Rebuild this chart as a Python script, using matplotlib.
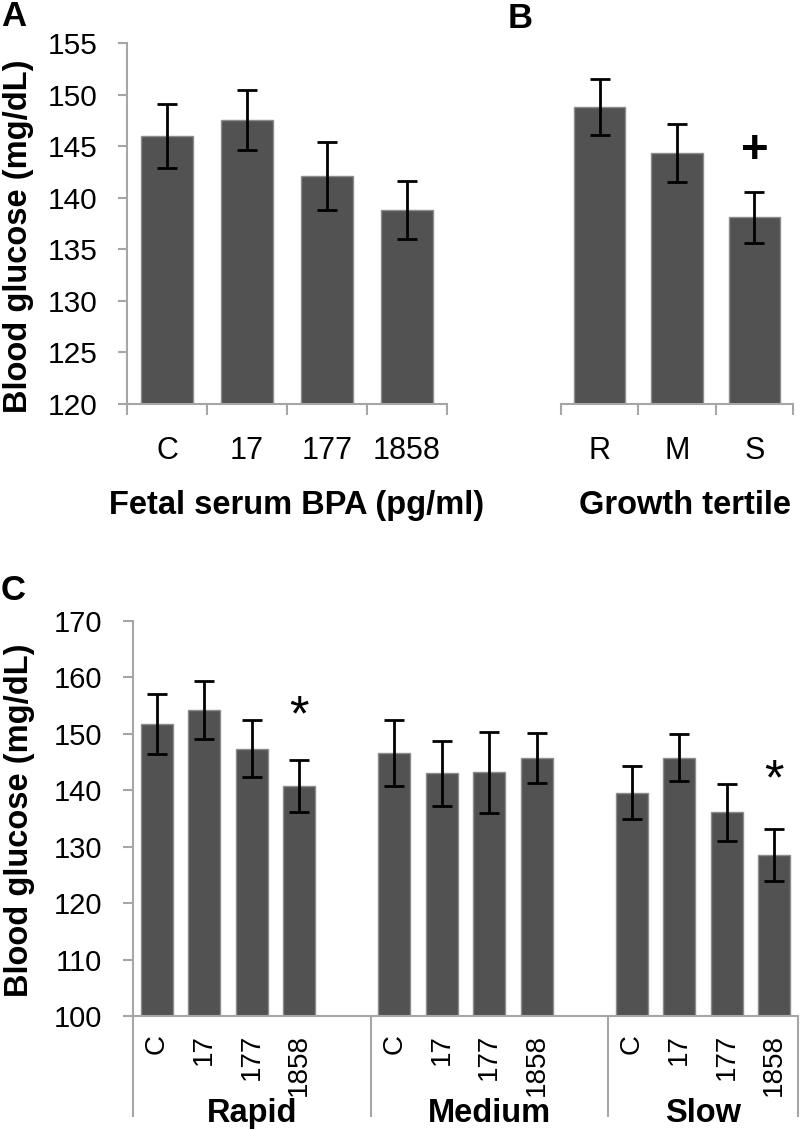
import matplotlib.pyplot as plt

plt.rcParams['font.family'] = ['Liberation Sans', 'DejaVu Sans']

# Panel A - fetal serum BPA
bpa_labels = ['C', '17', '177', '1858']
bpa_means = [146.0, 147.5, 142.1, 138.8]
bpa_err = [3.1, 2.9, 3.3, 2.8]

# Panel B - growth tertile
tertile_labels = ['R', 'M', 'S']
tertile_means = [148.8, 144.3, 138.1]
tertile_err = [2.7, 2.8, 2.5]

# Panel C - BPA dose within each growth tertile
groups = ['Rapid', 'Medium', 'Slow']
rapid_means = [151.7, 154.2, 147.4, 140.7]
rapid_err = [5.3, 5.1, 5.1, 4.6]
medium_means = [146.6, 143.0, 143.2, 145.7]
medium_err = [5.8, 5.75, 7.2, 4.4]
slow_means = [139.6, 145.8, 136.1, 128.5]
slow_err = [4.65, 4.15, 5.0, 4.6]

bar_color = '#525252'
edge_color = '#8c8c8c'
axis_color = '#a6a6a6'
W, H = 800, 1130
fs = 22
fs_bold = 23.5


def add_axes_px(left, top, right, bottom):
    return fig.add_axes([left / W, 1 - bottom / H, (right - left) / W, (bottom - top) / H])


def draw_bars(ax, x, means, err, width):
    ax.bar(x, means, width=width, color=bar_color, edgecolor=edge_color, linewidth=1)
    ax.errorbar(x, means, yerr=err, fmt='none', ecolor='black', elinewidth=2,
                capsize=7.5, capthick=2)


def style(ax, show_y=True):
    ax.spines['top'].set_visible(False)
    ax.spines['right'].set_visible(False)
    ax.spines['bottom'].set_color(axis_color)
    ax.spines['bottom'].set_linewidth(1.5)
    if show_y:
        ax.spines['left'].set_color(axis_color)
        ax.spines['left'].set_linewidth(1.5)
        ax.tick_params(axis='y', length=6.5, width=1.5, color=axis_color,
                       labelsize=21.5, pad=15)
    else:
        ax.spines['left'].set_visible(False)
        ax.tick_params(axis='y', left=False, labelleft=False)


fig = plt.figure(figsize=(W / 100, H / 100), dpi=100)

# ---- A ----
axA = add_axes_px(127, 43, 447, 404)
xa = list(range(len(bpa_labels)))
draw_bars(axA, xa, bpa_means, bpa_err, 0.66)
axA.set_ylim(120, 155)
axA.set_xlim(-0.5, len(bpa_labels) - 0.5)
axA.set_yticks(range(120, 156, 5))
axA.set_xticks([i - 0.5 for i in range(len(bpa_labels) + 1)])
axA.set_xticklabels([])
axA.set_xticks(xa, minor=True)
axA.set_xticklabels(bpa_labels, minor=True)
style(axA)
axA.tick_params(axis='x', which='major', length=8, width=1.5, color=axis_color)
axA.tick_params(axis='x', which='minor', length=0, labelsize=fs, pad=23)
axA.text(0.53, -0.28, 'Fetal serum BPA (pg/ml)', transform=axA.transAxes,
         ha='center', va='center', fontsize=fs_bold, fontweight='bold')

# ---- B ----
axB = add_axes_px(561, 43, 793, 404)
xb = list(range(len(tertile_labels)))
draw_bars(axB, xb, tertile_means, tertile_err, 0.66)
axB.set_ylim(120, 155)
axB.set_xlim(-0.5, len(tertile_labels) - 0.5)
axB.set_xticks([i - 0.5 for i in range(len(tertile_labels) + 1)])
axB.set_xticklabels([])
axB.set_xticks(xb, minor=True)
axB.set_xticklabels(tertile_labels, minor=True)
style(axB, show_y=False)
axB.tick_params(axis='x', which='major', length=8, width=1.5, color=axis_color)
axB.tick_params(axis='x', which='minor', length=0, labelsize=fs, pad=23)
axB.text(2, 144.5, '+', ha='center', va='center', fontsize=34, fontweight='bold')
axB.text(0.535, -0.28, 'Growth tertile', transform=axB.transAxes,
         ha='center', va='center', fontsize=fs_bold, fontweight='bold')

# ---- C ----
axC = add_axes_px(133, 621, 798, 1016)
c_labels = []
c_pos = []
group_centers = [2, 7, 11.5]
for g, (means, err) in enumerate([(rapid_means, rapid_err), (medium_means, medium_err),
                                   (slow_means, slow_err)]):
    pos = [g * 5 + i for i in range(len(bpa_labels))]
    draw_bars(axC, pos, means, err, 0.67)
    c_pos += pos
    c_labels += bpa_labels
    axC.text(group_centers[g], -0.268, groups[g], transform=axC.get_xaxis_transform(),
             ha='center', va='baseline', fontsize=fs_bold, fontweight='bold')
axC.set_ylim(100, 170)
axC.set_xlim(-0.5, 13.5)
axC.set_yticks(range(100, 171, 10))
axC.set_xticks([-0.5, 4.5, 9.5, 13.5])
axC.set_xticklabels([])
axC.set_xticks(c_pos, minor=True)
axC.set_xticklabels(c_labels, minor=True, rotation=90)
style(axC)
axC.tick_params(axis='y', length=7, labelsize=21)
axC.tick_params(axis='x', which='major', length=73, width=1.5, color=axis_color)
axC.tick_params(axis='x', which='minor', length=0, labelsize=20, pad=13)
axC.text(3, 153.0, '*', ha='center', va='center', fontsize=36)
axC.text(13, 141.5, '*', ha='center', va='center', fontsize=36)

# axis titles and panel letters
fig.text(19 / W, 1 - 236 / H, 'Blood glucose (mg/dL)', rotation=90, ha='center',
         va='center', fontsize=fs_bold, fontweight='bold')
fig.text(20 / W, 1 - 820 / H, 'Blood glucose (mg/dL)', rotation=90, ha='center',
         va='center', fontsize=fs_bold, fontweight='bold')
fig.text(1 / W, 1 - 17 / H, 'A', ha='left', va='center', fontsize=25, fontweight='bold')
fig.text(508 / W, 1 - 18 / H, 'B', ha='left', va='center', fontsize=25, fontweight='bold')
fig.text(1 / W, 1 - 590 / H, 'C', ha='left', va='center', fontsize=25, fontweight='bold')

fig.savefig('out.png', dpi=100)
